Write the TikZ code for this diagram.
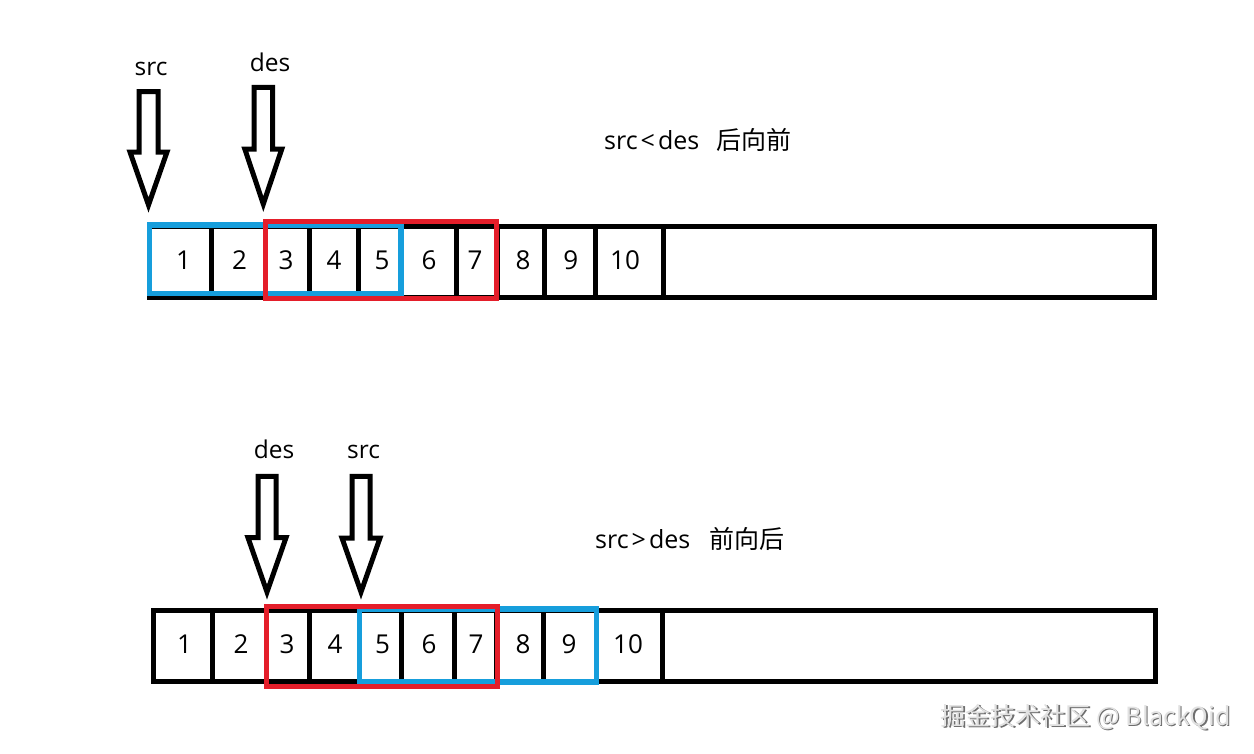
\documentclass[tikz,border=0pt]{standalone}
\usepackage{fontspec}
\setmainfont{Open Sans}
\newfontfamily\cjk{Noto Sans CJK SC}
\definecolor{cblue}{RGB}{22,158,220}
\definecolor{cred}{RGB}{228,30,42}
\definecolor{wmshadow}{RGB}{110,110,110}
\definecolor{wmfill}{RGB}{225,225,225}
\tikzset{
  strip/.style={draw=black,line width=5pt,line join=miter},
  divider/.style={draw=black,line width=5pt},
  bluebox/.style={draw=cblue,line width=5.5pt},
  redbox/.style={draw=cred,line width=5pt},
  blockarrow/.style={draw=black,fill=white,line width=5pt,line join=miter,miter limit=10},
  num/.style={anchor=base,inner sep=0pt,font=\fontsize{26}{30}\selectfont},
  ptr/.style={anchor=base,inner sep=0pt,font=\fontsize{24.5}{28}\selectfont},
  caption/.style={anchor=base west,inner sep=0pt,font=\fontsize{25}{30}\selectfont},
  wm/.style={anchor=base east,inner sep=0pt,font=\cjk\fontsize{25}{30}\selectfont}
}
\newcommand{\blockarr}[6]{% cx, shaft half width, top, head y, head half width, tip
  \draw[blockarrow] (#1-#2,#3) -- (#1+#2,#3) -- (#1+#2,#4) -- (#1+#5,#4) -- (#1,#6)
    -- (#1-#5,#4) -- (#1-#2,#4) -- cycle;}
\begin{document}
\begin{tikzpicture}[x=1pt,y=-1pt]
\useasboundingbox (0,0) rectangle (1254,753);
\fill[white] (0,0) rectangle (1254,753);

% ---------------- top strip ----------------
\draw[strip] (149,226.5) rectangle (1154,297);
\foreach \x in {211,265,309,358,401,456,497,544,595.6,663}
  \draw[divider] (\x,226.5) -- (\x,297);
\draw[bluebox] (149.3,225) rectangle (401,293.5);
\draw[redbox] (265,221) rectangle (496.5,298.3);
\foreach \n/\x in {1/183.6,2/239.6,3/286,4/334,5/382,6/429,7/475,8/523,9/570.7,10/625}
  \node[num] (t\n) at (\x,269) {\n};

% top pointers
\blockarr{148.5}{9.5}{91.5}{152}{18.5}{205}
\blockarr{263.3}{9.3}{87.3}{149}{18.5}{204}
\node[ptr] (tsrc) at (151,75) {src};
\node[ptr] (tdes) at (270,71) {des};
\node[caption] (tcap) at (604,149) {\makebox[112pt][l]{src\hspace{3pt}<\hspace{3pt}des}{\cjk 后向前}};

% ---------------- bottom strip ----------------
\draw[strip] (153.5,610.7) rectangle (1155,681);
\foreach \x in {212.6,266,309.5,359,401,454,496,543,596,662.7}
  \draw[divider] (\x,610.7) -- (\x,681);
\draw[bluebox] (359.5,609) rectangle (596.5,682);
\draw[redbox] (266.5,606) rectangle (497,686);
\foreach \n/\x in {1/184.5,2/241,3/287,4/335,5/382.5,6/429,7/476,8/523,9/569,10/628}
  \node[num] (b\n) at (\x,653) {\n};

% bottom pointers
\blockarr{267}{9}{476.3}{537.7}{19}{592}
\blockarr{361}{9}{476.3}{538}{19}{592}
\node[ptr] (bdes) at (274,458) {des};
\node[ptr] (bsrc) at (363.5,458) {src};
\node[caption] (bcap) at (595,548) {\makebox[114pt][l]{src\hspace{3pt}>\hspace{3pt}des}{\cjk 前向后}};

% watermark
\node[wm,text=wmshadow] (wms) at (1232.2,726.2) {掘金技术社区 @ BlackQid};
\node[wm,text=wmfill] (wmt) at (1231,725) {掘金技术社区 @ BlackQid};
\end{tikzpicture}
\end{document}
